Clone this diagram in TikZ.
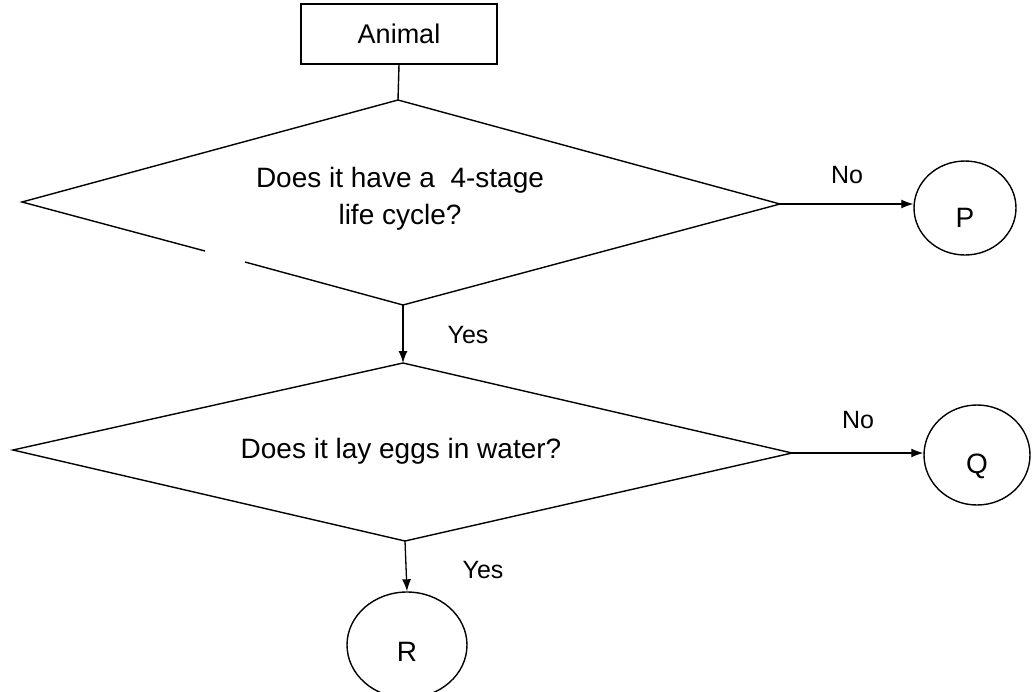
\documentclass[tikz,border=0pt]{standalone}
\usepackage{fontspec}
\setmainfont{Liberation Sans}
\usetikzlibrary{arrows.meta,shapes.geometric}
\begin{document}
\begin{tikzpicture}[x=1pt,y=-1pt,line width=1.4pt,
  every node/.style={inner sep=0pt},
  txt/.style={font=\fontsize{28}{37}\selectfont,align=center},
  lbl/.style={font=\fontsize{25}{30}\selectfont},
  term/.style={ellipse,draw,font=\fontsize{28}{34}\selectfont,text depth=0pt},
  flow/.style={-{Latex[length=12pt,width=9pt]},line width=1.3pt}]
\useasboundingbox (0,0) rectangle (1033,691);
\clip (0,0) rectangle (1033,691);
% start box
\node[draw,minimum width=196pt,minimum height=60pt,font=\fontsize{27}{32}\selectfont] (animal) at (399,34) {Animal};
% diamond 1
\coordinate (d1t) at (398,100);
\coordinate (d1l) at (22,202);
\coordinate (d1r) at (780,204);
\coordinate (d1b) at (403,305);
\coordinate (d1g1) at (205,251);
\coordinate (d1g2) at (245,262);
\draw (d1g1) -- (d1l) -- (d1t) -- (d1r) -- (d1b) -- (d1g2);
\node[txt] (q1) at (400,199) {Does it have a \ 4-stage\\life cycle?};
% diamond 2
\coordinate (d2t) at (403,363);
\coordinate (d2l) at (13,450);
\coordinate (d2r) at (792,453);
\coordinate (d2b) at (405,541);
\draw (d2t) -- (d2r) -- (d2b) -- (d2l) -- cycle;
\node[txt,anchor=base] (q2) at (401,458) {Does it lay eggs in water?};
% terminals
\node[term,minimum width=102pt,minimum height=94pt,text height=38pt] (P) at (965,208) {P};
\node[term,minimum width=106pt,minimum height=100pt,text height=36pt] (Q) at (977,455) {Q};
\node[term,minimum width=120pt,minimum height=106pt,text height=32pt] (R) at (407,645) {R};
% connectors
\draw (animal.south) -- (d1t);
\draw[flow] (d1r) -- (d1r -| P.west);
\draw[flow] (d2r) -- (d2r -| Q.west);
\draw[flow] (d1b) -- (d2t);
\draw[flow] (d2b) -- (R.north);
% labels
\node[lbl] (no1) at (847,175) {No};
\node[lbl] (no2) at (858,420) {No};
\node[lbl] (yes1) at (468,335) {Yes};
\node[lbl] (yes2) at (483,570) {Yes};
\end{tikzpicture}
\end{document}
